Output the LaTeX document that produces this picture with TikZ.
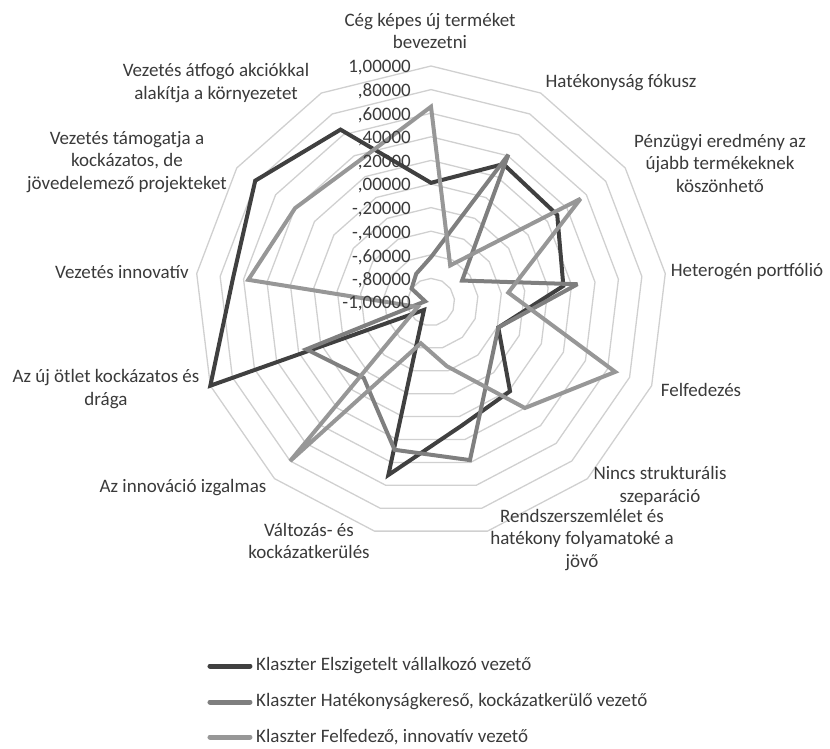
\documentclass[tikz,border=0pt]{standalone}
\usepackage{fontspec}
\setmainfont{Carlito}
\usetikzlibrary{positioning, math}
\definecolor{txtgray}{HTML}{3A3A3A}
\definecolor{ringgray}{HTML}{D0D0D0}
\definecolor{serdark}{HTML}{404040}
\definecolor{sermid}{HTML}{7F7F7F}
\definecolor{serlight}{HTML}{979797}
\tikzset{
ring/.style={draw=ringgray, line width=1.3pt},
series/.style={line width=4pt, line join=miter, miter limit=3},
elszig/.style={series, draw=serdark},
hatek/.style={series, draw=sermid},
felfed/.style={series, draw=serlight},
cat/.style={align=center, text=txtgray, font=\fontsize{19}{22.5}\selectfont, inner sep=0pt},
scalelbl/.style={anchor=east, text=txtgray, font=\fontsize{19}{22.5}\selectfont, inner sep=0pt},
legline/.style={line width=5pt, line cap=round},
legtext/.style={text=txtgray, font=\fontsize{19}{22.5}\selectfont, inner sep=0pt},
}

\begin{document}
\begin{tikzpicture}[x=1pt, y=1pt]
    \tikzmath{ \half=118; \angstep=360/13; };  % half radius, angle between axes
    \useasboundingbox (-431,-446) rectangle (399,302);

    % rings
    \foreach \i in {1,...,10}
        \draw[ring] (90:{\i*23.6}) \foreach \k in {1,...,12} { -- ({90-\k*\angstep}:{\i*23.6}) } -- cycle;

    % values of the three clusters
    \foreach \v [count=\k from 0] in {0.01, 0.32, 0.30, 0.13, -0.39, 0.01, 0.08, 0.51, -0.91, 1.00, 0.69, 0.81, 0.65}
        \coordinate (el\k) at ({90-\k*\angstep}:{(\v+1)*\half});
    \foreach \v [count=\k from 0] in {-0.62, 0.41, -0.68, 0.25, -0.39, -0.25, 0.38, 0.29, -0.14, 0.13, -0.95, -0.80, -0.73}
        \coordinate (ha\k) at ({90-\k*\angstep}:{(\v+1)*\half});
    \foreach \v [count=\k from 0] in {0.655, -0.65, 0.54, -0.34, 0.67, 0.20, -0.44, -0.64, 0.80, -0.88, 0.56, 0.40, 0.34}
        \coordinate (fe\k) at ({90-\k*\angstep}:{(\v+1)*\half});

    %series
    \draw[elszig] (el0)--(el1)--(el2)--(el3)--(el4)--(el5)--(el6)--(el7)--(el8)--(el9)--(el10)--(el11)--(el12)--cycle;
    \draw[hatek]  (ha0)--(ha1)--(ha2)--(ha3)--(ha4)--(ha5)--(ha6)--(ha7)--(ha8)--(ha9)--(ha10)--(ha11)--(ha12)--cycle;
    \draw[felfed] (fe0)--(fe1)--(fe2)--(fe3)--(fe4)--(fe5)--(fe6)--(fe7)--(fe8)--(fe9)--(fe10)--(fe11)--(fe12)--cycle;

    %scale labels
    \node[scalelbl] (s10) at (-20,234)   {1,00000};
    \node[scalelbl]  (s9) at (-20,210.4) {,80000};
    \node[scalelbl]  (s8) at (-20,186.8) {,60000};
    \node[scalelbl]  (s7) at (-20,163.2) {,40000};
    \node[scalelbl]  (s6) at (-20,139.6) {,20000};
    \node[scalelbl]  (s5) at (-20,116)   {,00000};
    \node[scalelbl]  (s4) at (-20,92.4)  {-,20000};
    \node[scalelbl]  (s3) at (-20,68.8)  {-,40000};
    \node[scalelbl]  (s2) at (-20,45.2)  {-,60000};
    \node[scalelbl]  (s1) at (-20,21.6)  {-,80000};
    \node[scalelbl]  (s0) at (-20,-2)    {-1,00000};

    %category labels
    \node[cat]       (ceg) at (-1,271)    {Cég képes új terméket\\bevezetni};
    \node[cat]  (hatekony) at (190,219)   {Hatékonyság fókusz};
    \node[cat]   (penzugy) at (289,139)   {Pénzügyi eredmény az\\újabb termékeknek\\köszönhető};
    \node[cat]    (hetero) at (316,30)    {Heterogén portfólió};
    \node[cat]    (felfed) at (270,-88)   {Felfedezés};
    \node[cat]     (nincs) at (229,-184)  {Nincs strukturális\\szeparáció};
    \node[cat]  (rendszer) at (151,-238)  {Rendszerszemlélet és\\hatékony folyamatoké a\\jövő};
    \node[cat]  (valtozas) at (-122,-239) {Változás- és\\kockázatkerülés};
    \node[cat]  (izgalmas) at (-248,-186) {Az innováció izgalmas};
    \node[cat]   (ujotlet) at (-325,-87)  {Az új ötlet kockázatos és\\drága};
    \node[cat] (innovativ) at (-309,30)   {Vezetés innovatív};
    \node[cat]  (tamogat) at (-304,140)   {Vezetés támogatja a\\kockázatos, de\\jövedelemező projekteket};
    \node[cat]    (atfogo) at (-215,219)  {Vezetés átfogó akciókkal\\alakítja a környezetet};

    %legend
    \coordinate (l1a) at (-221,-364);
    \coordinate (l1b) at (-181,-364);
    \coordinate (l2a) at (-221,-400);
    \coordinate (l2b) at (-181,-400);
    \coordinate (l3a) at (-221,-435);
    \coordinate (l3b) at (-181,-435);
    \draw[legline, draw=serdark]  (l1a)--(l1b);
    \draw[legline, draw=sermid]   (l2a)--(l2b);
    \draw[legline, draw=serlight] (l3a)--(l3b);
    \node[legtext, right=6pt of l1b] (l1t) {Klaszter Elszigetelt vállalkozó vezető};
    \node[legtext, right=6pt of l2b] (l2t) {Klaszter Hatékonyságkereső, kockázatkerülő vezető};
    \node[legtext, right=6pt of l3b] (l3t) {Klaszter Felfedező, innovatív vezető};
\end{tikzpicture}
\end{document}
